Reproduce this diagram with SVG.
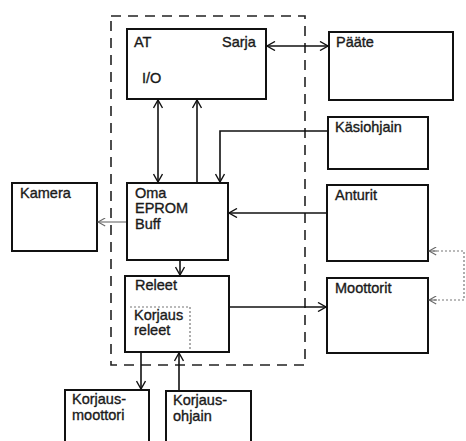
<svg xmlns="http://www.w3.org/2000/svg" width="466" height="441" viewBox="0 0 466 441">
<defs>
<marker id="ah" viewBox="0 0 10 10" refX="9" refY="5" markerWidth="10" markerHeight="10" markerUnits="userSpaceOnUse" orient="auto-start-reverse">
<path d="M1,0.5 L9,5 L1,9.5" fill="none" stroke="#111" stroke-width="1.4"/>
</marker>
<marker id="ahg" viewBox="0 0 10 10" refX="9" refY="5" markerWidth="9" markerHeight="9" markerUnits="userSpaceOnUse" orient="auto-start-reverse">
<path d="M1,0.5 L9,5 L1,9.5" fill="none" stroke="#666" stroke-width="1.2"/>
</marker>
</defs>
<style>
.box{fill:#fff;stroke:#111;stroke-width:2}
.t{font-family:"Liberation Sans",Arial,sans-serif;font-size:14.5px;fill:#1a1a1a;stroke:#1a1a1a;stroke-width:0.35}
.c{fill:none;stroke:#111;stroke-width:1.6}
.cg{fill:none;stroke:#777;stroke-width:1.2}
.dot{fill:none;stroke:#777;stroke-width:1.2;stroke-dasharray:2 2}
</style>
<rect width="466" height="441" fill="#fff"/>
<rect x="111" y="16" width="194" height="349" fill="none" stroke="#222" stroke-width="1.6" stroke-dasharray="10 7"/>

<g id="at"><rect class="box" x="127" y="29" width="139" height="70"/>
<text class="t" x="134" y="47">AT</text><text class="t" x="222" y="47">Sarja</text><text class="t" x="142" y="83">I/O</text></g>
<g id="paate"><rect class="box" x="329" y="32" width="124" height="68"/><text class="t" x="336" y="47">Pääte</text></g>
<g id="kasiohjain"><rect class="box" x="328" y="117" width="100" height="52"/><text class="t" x="335" y="132">Käsiohjain</text></g>
<g id="anturit"><rect class="box" x="327" y="185" width="101" height="76"/><text class="t" x="335" y="200">Anturit</text></g>
<g id="moottorit"><rect class="box" x="327" y="278" width="101" height="75"/><text class="t" x="335" y="293">Moottorit</text></g>
<g id="kamera"><rect class="box" x="12" y="183" width="85" height="68"/><text class="t" x="20" y="198">Kamera</text></g>
<g id="eprom"><rect class="box" x="127" y="183" width="101" height="77"/>
<text class="t" x="135" y="198">Oma</text><text class="t" x="135" y="213">EPROM</text><text class="t" x="135" y="229">Buff</text></g>
<g id="releet"><rect class="box" x="125" y="276" width="104" height="76"/>
<text class="t" x="135" y="290">Releet</text>
<path class="dot" d="M130,307 H190 V350"/>
<text class="t" x="134" y="320">Korjaus</text><text class="t" x="134" y="335">releet</text></g>
<g id="korjausmoottori"><rect class="box" x="65" y="390" width="84" height="60"/>
<text class="t" x="72" y="404">Korjaus-</text><text class="t" x="72" y="420">moottori</text></g>
<g id="korjausohjain"><rect class="box" x="166" y="391" width="85" height="60"/>
<text class="t" x="173" y="405">Korjaus-</text><text class="t" x="173" y="421">ohjain</text></g>

<g id="connectors">
<line class="c" x1="267" y1="46" x2="328" y2="46" marker-start="url(#ah)" marker-end="url(#ah)"/>
<line class="c" x1="158" y1="100" x2="158" y2="182" marker-start="url(#ah)" marker-end="url(#ah)"/>
<line class="c" x1="197" y1="100" x2="197" y2="183" marker-start="url(#ah)"/>
<path class="c" d="M328,131 H220 V182" marker-end="url(#ah)"/>
<line class="cg" x1="126" y1="222" x2="98" y2="222" marker-end="url(#ahg)"/>
<line class="c" x1="327" y1="213" x2="229" y2="213" marker-end="url(#ah)"/>
<line class="c" x1="180" y1="261" x2="180" y2="275" marker-end="url(#ah)"/>
<line class="c" x1="230" y1="307" x2="326" y2="307" marker-end="url(#ah)"/>
<line class="c" x1="141" y1="353" x2="141" y2="389" marker-end="url(#ah)"/>
<line class="c" x1="179" y1="390" x2="179" y2="353" marker-end="url(#ah)"/>
<path class="dot" d="M429,251 H464 V300 H429"/>
<line class="cg" x1="437" y1="251" x2="429" y2="251" marker-end="url(#ahg)"/>
<line class="cg" x1="437" y1="300" x2="429" y2="300" marker-end="url(#ahg)"/>
</g>
</svg>
